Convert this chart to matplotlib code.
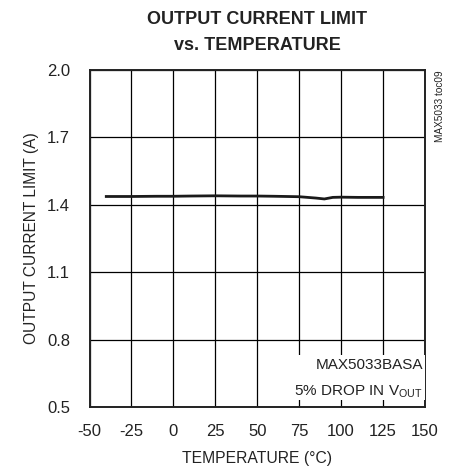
import matplotlib
matplotlib.use("Agg")
import matplotlib.pyplot as plt
from matplotlib.patches import Rectangle

plt.rcParams['font.family'] = ['Liberation Sans', 'DejaVu Sans']
plt.rcParams['mathtext.fontset'] = 'custom'
plt.rcParams['mathtext.rm'] = 'Liberation Sans'

temperature = [-40, -25, -10, 0, 10, 25, 40, 50, 60, 75, 85, 90, 95, 100, 110, 125]
current_limit = [1.437, 1.437, 1.438, 1.438, 1.439, 1.440, 1.439, 1.439, 1.438, 1.436, 1.430, 1.426, 1.433, 1.434, 1.433, 1.433]
x_ticks = [-50, -25, 0, 25, 50, 75, 100, 125, 150]
y_ticks = [0.5, 0.8, 1.1, 1.4, 1.7, 2.0]

ink = '#222222'
fig = plt.figure(figsize=(4.49, 4.68), dpi=100)
ax = fig.add_axes([89.5/449, 1-407/468, (425-89.5)/449, (407-70)/468])
ax.plot(temperature, current_limit, color='#1a1a1a', lw=2.0, zorder=3)
ax.set_xlim(-50, 150)
ax.set_ylim(0.5, 2.0)
ax.set_xticks(x_ticks)
ax.set_yticks(y_ticks)
ax.set_xticklabels([str(v) for v in x_ticks])
ax.set_yticklabels([f"{v:.1f}" for v in y_ticks])
ax.grid(True, color='black', lw=0.9)
ax.tick_params(length=0, labelsize=12, colors=ink)
ax.tick_params(axis='x', pad=12)
ax.tick_params(axis='y', pad=14)
for s in ax.spines.values():
    s.set_linewidth(1.4)
    s.set_color(ink)
ax.set_axisbelow(True)
ax.set_xlabel('TEMPERATURE (°C)', fontsize=11.3, labelpad=9, color=ink)
ax.set_ylabel('OUTPUT CURRENT LIMIT (A)', fontsize=11.2, labelpad=6, color=ink)
fig.text(257/449, 1-19/468, 'OUTPUT CURRENT LIMIT', ha='center', va='center', fontsize=13, fontweight='bold', color=ink)
fig.text(257/449, 1-45/468, 'vs. TEMPERATURE', ha='center', va='center', fontsize=13, fontweight='bold', color=ink)
ax.add_patch(Rectangle((0.598, 0.021), 0.402, 0.133, transform=ax.transAxes,
                       facecolor='white', edgecolor='none', zorder=4))
ax.text(0.994, 0.1246, 'MAX5033BASA', transform=ax.transAxes, ha='right', va='center',
        fontsize=11, color=ink, zorder=5)
ax.text(0.994, 0.0445, '5% DROP IN $\\mathrm{V_{OUT}}$', transform=ax.transAxes, ha='right', va='center',
        fontsize=11, color=ink, zorder=5)
fig.text(440/449, 1-70/468, 'MAX5033 toc09', rotation=90, ha='center', va='top', fontsize=7.2, color=ink)
fig.savefig('out.png', dpi=100)
